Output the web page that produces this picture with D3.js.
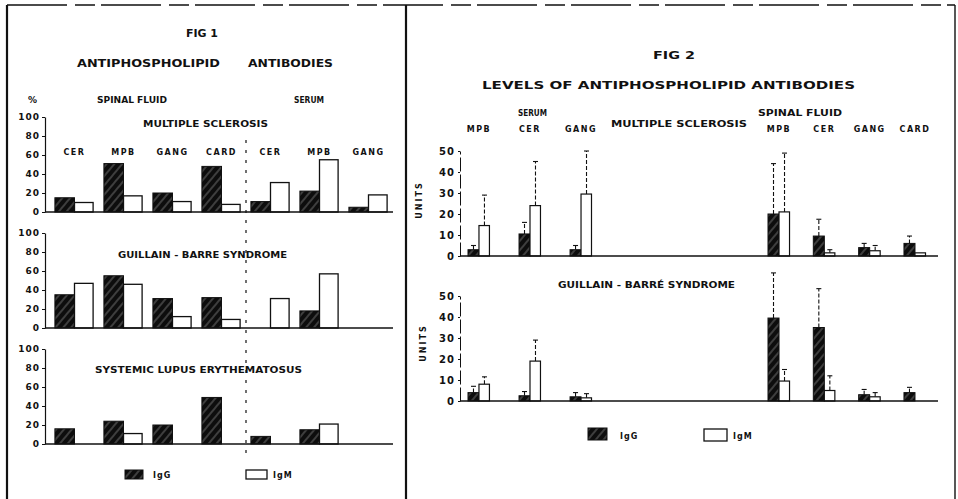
<!DOCTYPE html>
<html><head><meta charset="utf-8">
<script src="https://cdn.jsdelivr.net/npm/d3@7"></script>
<style>
body{margin:0;background:#fff;}
text{font-family:"DejaVu Sans",sans-serif;font-weight:bold;fill:#111;}
</style></head><body>
<script>
// ---------- DATA ----------
// Fig 1: percent positive
const fig1Labels = ["CER","MPB","GANG","CARD","CER","MPB","GANG"]; // first 4 spinal fluid, last 3 serum
const fig1Ticks = [0,20,40,60,80,100];
const fig1Titles = ["MULTIPLE SCLEROSIS","GUILLAIN - BARRE SYNDROME","SYSTEMIC LUPUS ERYTHEMATOSUS"];
const msIgG  = [15,51,20,48,11,22,5];
const msIgM  = [10,17,11,8,31,55,18];
const gbsIgG = [35,55,31,32,0,18,0];
const gbsIgM = [47,46,12,9,31,57,0];
const sleIgG = [16,24,20,49,8,15,0];
const sleIgM = [0,11,0,0,0,21,0];

// Fig 2: levels (units) with upper error limit
const fig2SerumLabels = ["MPB","CER","GANG"];
const fig2CsfLabels = ["MPB","CER","GANG","CARD"];
const fig2Ticks = [0,10,20,30,40,50];
const msSerumIgG = [3,10.5,3],   msSerumIgGErr = [5,16,5];
const msSerumIgM = [14.5,24,29.5], msSerumIgMErr = [29,45,50];
const msCsfIgG = [20,9.5,4,6],   msCsfIgGErr = [44,17.5,6,9.5];
const msCsfIgM = [21,1.5,2.5,1.5], msCsfIgMErr = [49,3,5,null];
const gbsSerumIgG = [4,2.5,2],   gbsSerumIgGErr = [7,4.5,4];
const gbsSerumIgM = [8,19,1.5],  gbsSerumIgMErr = [11.5,29,3.5];
const gbsCsfIgG = [39.5,35,3,4], gbsCsfIgGErr = [61,53.5,5.5,6.5];
const gbsCsfIgM = [9.5,5,2,0],   gbsCsfIgMErr = [15,12,4,null];

// ---------- DRAW ----------
const svg = d3.select("body").append("svg").attr("width",958).attr("height",499);
const defs = svg.append("defs");
const pat = defs.append("pattern").attr("id","hatch").attr("patternUnits","userSpaceOnUse")
  .attr("width",6).attr("height",6).attr("patternTransform","rotate(40)");
pat.append("rect").attr("width",6).attr("height",6).attr("fill","#0d0d0d");
pat.append("line").attr("x1",1).attr("y1",0).attr("x2",1).attr("y2",6).attr("stroke","#9a9a9a").attr("stroke-width",0.7);

svg.append("rect").attr("width",958).attr("height",499).attr("fill","#fff");

// frame
svg.append("line").attr("x1",7).attr("x2",955).attr("y1",5).attr("y2",5).attr("stroke","#111").attr("stroke-width",1.3).attr("stroke-dasharray","60,8,20,6");
svg.append("line").attr("x1",7).attr("x2",7).attr("y1",5).attr("y2",499).attr("stroke","#111").attr("stroke-width",2.2);
svg.append("line").attr("x1",406).attr("x2",406).attr("y1",5).attr("y2",499).attr("stroke","#111").attr("stroke-width",2.2);
svg.append("line").attr("x1",955).attr("x2",955).attr("y1",5).attr("y2",499).attr("stroke","#111").attr("stroke-width",1.4);

function label(txt, x1, x2, yb, size){
  return svg.append("text").attr("x",(x1+x2)/2).attr("y",yb).attr("text-anchor","middle")
    .attr("font-size",size).attr("textLength",x2-x1).attr("lengthAdjust","spacingAndGlyphs").text(txt);
}

// ----- FIG 1 -----
label("FIG 1",186,218,37,10);
label("ANTIPHOSPHOLIPID",77,220,67,10);
label("ANTIBODIES",248,333,67,10);
svg.append("text").attr("x",28).attr("y",103).attr("font-size",9).text("%");
label("SPINAL  FLUID",97,167,103,8);
label("SERUM",294,324,103,8);

const x1 = d3.scaleBand().domain(d3.range(fig1Labels.length)).range([50,393]).paddingInner(0.2).paddingOuter(0.1);
const bw1 = x1.bandwidth()/2;
const fig1Data = [[msIgG,msIgM],[gbsIgG,gbsIgM],[sleIgG,sleIgM]];
const fig1Base = [212,328,444];
const fig1TitlePos = [[143,268,127],[118,287,258],[95,302,373]];

fig1Data.forEach(([igg,igm],p)=>{
  const y = d3.scaleLinear().domain([0,100]).range([fig1Base[p], fig1Base[p]-95]);
  const ax = svg.append("g").attr("transform","translate(45,0)")
    .call(d3.axisLeft(y).tickValues(fig1Ticks).tickSize(3).tickPadding(2).tickSizeOuter(0));
  ax.select(".domain").attr("stroke","#111").attr("stroke-width",1.2);
  ax.selectAll(".tick line").attr("stroke","#111");
  ax.selectAll("text").attr("font-size",9).attr("letter-spacing",1).style("font-family","DejaVu Sans").style("font-weight","bold");
  const t = fig1TitlePos[p];
  label(fig1Titles[p], t[0], t[1], t[2], 8);
  const g = svg.append("g");
  g.selectAll(".g").data(igg).join("rect")
    .attr("x",(d,i)=>x1(i)).attr("width",bw1)
    .attr("y",d=>y(d)).attr("height",d=>y(0)-y(d))
    .attr("fill","url(#hatch)").attr("stroke","#111").attr("stroke-width",1);
  g.selectAll(".m").data(igm).join("rect")
    .attr("x",(d,i)=>x1(i)+bw1).attr("width",bw1-1)
    .attr("y",d=>y(d)).attr("height",d=>y(0)-y(d))
    .attr("fill","#fff").attr("stroke",d=>d>0?"#111":"none").attr("stroke-width",1.3);
  svg.append("line").attr("x1",45).attr("x2",393).attr("y1",y(0)).attr("y2",y(0)).attr("stroke","#111").attr("stroke-width",1.5);
});
// category labels (top panel)
svg.append("g").selectAll("text").data(fig1Labels).join("text")
  .attr("x",(d,i)=>x1(i)+x1.bandwidth()/2).attr("y",155).attr("text-anchor","middle")
  .attr("font-size",8).attr("letter-spacing",1.5).text(d=>d);
// dashed separator
const sepX = (x1(3)+x1.bandwidth()+x1(4))/2;
svg.append("line").attr("x1",sepX).attr("x2",sepX).attr("y1",140).attr("y2",460)
  .attr("stroke","#111").attr("stroke-width",1.2).attr("stroke-dasharray","3,7");
// legend fig1
svg.append("rect").attr("x",125).attr("y",470).attr("width",18).attr("height",9).attr("fill","url(#hatch)").attr("stroke","#111");
svg.append("text").attr("x",153).attr("y",478).attr("font-size",8).attr("letter-spacing",1).text("IgG");
svg.append("rect").attr("x",246).attr("y",470).attr("width",21).attr("height",9).attr("fill","#fff").attr("stroke","#111").attr("stroke-width",1.3);
svg.append("text").attr("x",273).attr("y",478).attr("font-size",8).attr("letter-spacing",1).text("IgM");

// ----- FIG 2 -----
label("FIG 2",653,695,59,10);
label("LEVELS  OF  ANTIPHOSPHOLIPID   ANTIBODIES",482,855,89,11);
label("SERUM",518,547,116,8);
label("SPINAL  FLUID",758,842,116,8);
label("MULTIPLE  SCLEROSIS",611,747,127,8);
label("GUILLAIN - BARRÉ  SYNDROME",558,735,288,8);

const xs = d3.scaleBand().domain(d3.range(fig2SerumLabels.length)).range([468,592]).paddingInner(0.57).paddingOuter(0);
const xc = d3.scaleBand().domain(d3.range(fig2CsfLabels.length)).range([768,926]).paddingInner(0.514).paddingOuter(0);

svg.append("g").selectAll("text").data(fig2SerumLabels).join("text")
  .attr("x",(d,i)=>xs(i)+xs.bandwidth()/2).attr("y",132).attr("text-anchor","middle")
  .attr("font-size",8).attr("letter-spacing",1.5).text(d=>d);
svg.append("g").selectAll("text").data(fig2CsfLabels).join("text")
  .attr("x",(d,i)=>xc(i)+xc.bandwidth()/2).attr("y",132).attr("text-anchor","middle")
  .attr("font-size",8).attr("letter-spacing",1.5).text(d=>d);

const fig2Data = [
  {s:[msSerumIgG,msSerumIgGErr,msSerumIgM,msSerumIgMErr], c:[msCsfIgG,msCsfIgGErr,msCsfIgM,msCsfIgMErr]},
  {s:[gbsSerumIgG,gbsSerumIgGErr,gbsSerumIgM,gbsSerumIgMErr], c:[gbsCsfIgG,gbsCsfIgGErr,gbsCsfIgM,gbsCsfIgMErr]}
];
const fig2Base = [256,401];
const unitsY = [200,343];
fig2Data.forEach((pd,p)=>{
  const y = d3.scaleLinear().domain([0,50]).range([fig2Base[p], fig2Base[p]-105]);
  const ax = svg.append("g").attr("transform","translate(460,0)")
    .call(d3.axisLeft(y).tickValues(fig2Ticks).tickSize(2).tickPadding(3).tickSizeOuter(0));
  ax.select(".domain").attr("stroke","#111").attr("stroke-width",1).attr("stroke-dasharray","14,3");
  ax.selectAll(".tick line").attr("stroke","#111");
  ax.selectAll("text").attr("font-size",10).attr("letter-spacing",1).style("font-family","DejaVu Sans").style("font-weight","bold");
  svg.append("text").attr("transform",`translate(${p?426:422},${unitsY[p]}) rotate(-90)`)
    .attr("text-anchor","middle").attr("font-size",8).attr("letter-spacing",2).text("UNITS");
  [[xs,pd.s],[xc,pd.c]].forEach(([xsc,arr])=>{
    const bw = xsc.bandwidth()/2;
    const [gv,ge,mv,me] = arr;
    const g = svg.append("g");
    const eb = (vals,errs,off)=>{
      const dd = vals.map((v,i)=>({v,e:errs[i],i})).filter(d=>d.e!=null);
      g.selectAll(null).data(dd).join("line")
        .attr("x1",d=>xsc(d.i)+off+bw/2).attr("x2",d=>xsc(d.i)+off+bw/2)
        .attr("y1",d=>y(d.v)).attr("y2",d=>y(d.e))
        .attr("stroke","#111").attr("stroke-width",1.1).attr("stroke-dasharray","4,2");
      g.selectAll(null).data(dd).join("line")
        .attr("x1",d=>xsc(d.i)+off+bw/2-2.5).attr("x2",d=>xsc(d.i)+off+bw/2+2.5)
        .attr("y1",d=>y(d.e)).attr("y2",d=>y(d.e))
        .attr("stroke","#111").attr("stroke-width",1.1);
    };
    eb(gv,ge,0); eb(mv,me,bw);
    g.selectAll(null).data(gv).join("rect")
      .attr("x",(d,i)=>xsc(i)).attr("width",bw)
      .attr("y",d=>y(d)).attr("height",d=>y(0)-y(d))
      .attr("fill","url(#hatch)").attr("stroke","#111").attr("stroke-width",1);
    g.selectAll(null).data(mv).join("rect")
      .attr("x",(d,i)=>xsc(i)+bw).attr("width",bw-0.5)
      .attr("y",d=>y(d)).attr("height",d=>y(0)-y(d))
      .attr("fill","#fff").attr("stroke",d=>d>0?"#111":"none").attr("stroke-width",1.2);
  });
  svg.append("line").attr("x1",460).attr("x2",938).attr("y1",y(0)).attr("y2",y(0)).attr("stroke","#111").attr("stroke-width",1.5);
});
// legend fig2
svg.append("rect").attr("x",588).attr("y",428).attr("width",19).attr("height",12).attr("fill","url(#hatch)").attr("stroke","#111");
svg.append("text").attr("x",620).attr("y",439).attr("font-size",8).attr("letter-spacing",1).text("IgG");
svg.append("rect").attr("x",704).attr("y",429).attr("width",23).attr("height",12).attr("fill","#fff").attr("stroke","#111").attr("stroke-width",1.3);
svg.append("text").attr("x",733).attr("y",439).attr("font-size",8).attr("letter-spacing",1).text("IgM");
</script></body></html>
